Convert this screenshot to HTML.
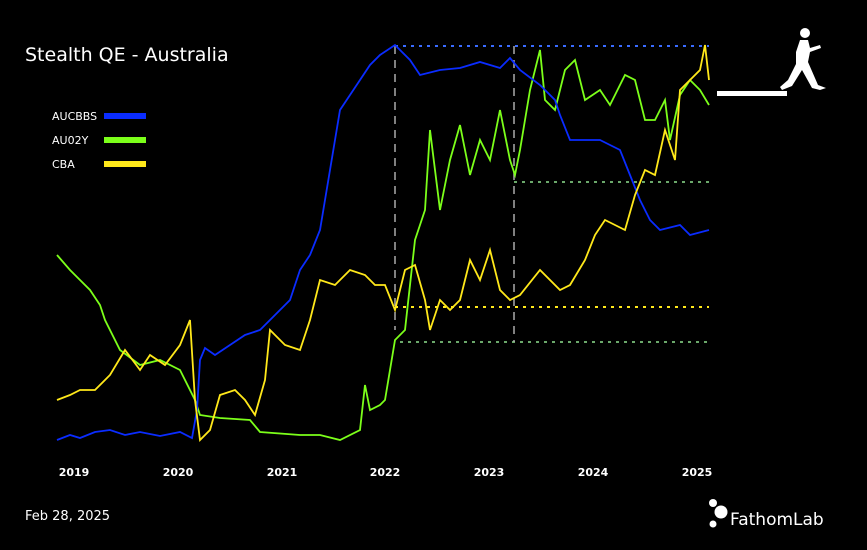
<!DOCTYPE html>
<html><head><meta charset="utf-8"><style>
html,body{margin:0;padding:0;background:#000;}
svg{display:block;font-family:"DejaVu Sans","Liberation Sans",sans-serif;}
</style></head><body>
<svg width="867" height="550" viewBox="0 0 867 550">
<rect width="867" height="550" fill="#000"/>
<text x="25" y="61" fill="#fff" font-size="19">Stealth QE - Australia</text>
<text x="52" y="120" fill="#fff" font-size="11">AUCBBS</text>
<rect x="104" y="113" width="42" height="6" fill="#0a2cff"/>
<text x="52" y="144" fill="#fff" font-size="11">AU02Y</text>
<rect x="104" y="137" width="42" height="6" fill="#7cff1a"/>
<text x="52" y="168" fill="#fff" font-size="11">CBA</text>
<rect x="104" y="161" width="42" height="6" fill="#ffe81a"/>
<g fill="none" stroke-width="1.8">
<line x1="395" y1="46" x2="709" y2="46" stroke="#3a6bff" stroke-dasharray="3,5" stroke-width="2"/>
<line x1="514" y1="182" x2="709" y2="182" stroke="#6aa86a" stroke-dasharray="3,5" stroke-width="2"/>
<line x1="395" y1="307" x2="709" y2="307" stroke="#ffe81a" stroke-dasharray="3,5" stroke-width="2"/>
<line x1="400" y1="342" x2="709" y2="342" stroke="#6aa86a" stroke-dasharray="3,5" stroke-width="2"/>
<line x1="395" y1="46" x2="395" y2="330" stroke="#aaa" stroke-dasharray="8,6" stroke-width="1.5"/>
<line x1="514" y1="46" x2="514" y2="342" stroke="#aaa" stroke-dasharray="8,6" stroke-width="1.5"/>
<polyline stroke="#7cff1a" points="57,255 70,270 80,280 90,290 100,305 105,320 120,350 140,365 160,360 180,370 195,400 200,415 220,418 250,420 260,432 300,435 320,435 340,440 360,430 365,385 370,410 380,405 385,400 395,340 405,330 415,240 425,210 430,130 440,210 450,160 460,125 470,175 480,140 490,160 500,110 510,160 515,175 520,150 530,90 540,50 545,100 555,110 565,70 575,60 585,100 600,90 610,105 625,75 635,80 645,120 655,120 665,100 670,140 680,95 690,80 700,90 709,105"/>
<polyline stroke="#0a2cff" points="57,440 70,435 80,438 95,432 110,430 125,435 140,432 160,436 180,432 192,438 197,410 200,360 205,348 215,355 230,345 245,335 260,330 270,320 280,310 290,300 300,270 310,255 320,230 330,170 340,110 350,95 360,80 370,65 380,55 395,45 410,60 420,75 440,70 460,68 480,62 500,68 510,58 520,70 540,85 555,100 560,115 570,140 600,140 620,150 630,175 640,200 650,220 660,230 680,225 690,235 709,230"/>
<polyline stroke="#ffe81a" points="57,400 70,395 80,390 95,390 110,375 125,350 140,370 150,355 165,365 180,345 190,320 195,400 200,440 210,430 220,395 235,390 245,400 255,415 265,380 270,330 285,345 300,350 310,320 320,280 335,285 350,270 365,275 375,285 385,285 395,310 405,270 415,265 425,300 430,330 440,300 450,310 460,300 470,260 480,280 490,250 500,290 510,300 520,295 540,270 560,290 570,285 585,260 595,235 605,220 615,225 625,230 635,195 645,170 655,175 665,130 675,160 680,90 690,80 700,70 705,45 709,80"/>
</g>
<g fill="#fff" font-size="11" font-weight="bold" text-anchor="middle">
<text x="74" y="476">2019</text><text x="178" y="476">2020</text><text x="282" y="476">2021</text>
<text x="385" y="476">2022</text><text x="489" y="476">2023</text><text x="593" y="476">2024</text><text x="697" y="476">2025</text>
</g>
<text x="25" y="520" fill="#fff" font-size="13">Feb 28, 2025</text>
<rect x="717" y="91" width="70" height="5" fill="#fff"/>
<g fill="#fff">
<circle cx="805" cy="33" r="5"/>
<path d="M800,40 L808,40 L810,48 L820,45 L821,48 L810,52 L808,62 L818,85 L826,88 L820,90 L812,88 L802,70 L792,86 L782,90 L780,87 L788,80 L796,64 L796,52 Z"/>
<circle cx="713" cy="503" r="4"/>
<circle cx="721" cy="512" r="6.5"/>
<circle cx="713" cy="524" r="3.5"/>
</g>
<text x="730" y="525" fill="#fff" font-size="17">FathomLab</text>
</svg>
</body></html>
